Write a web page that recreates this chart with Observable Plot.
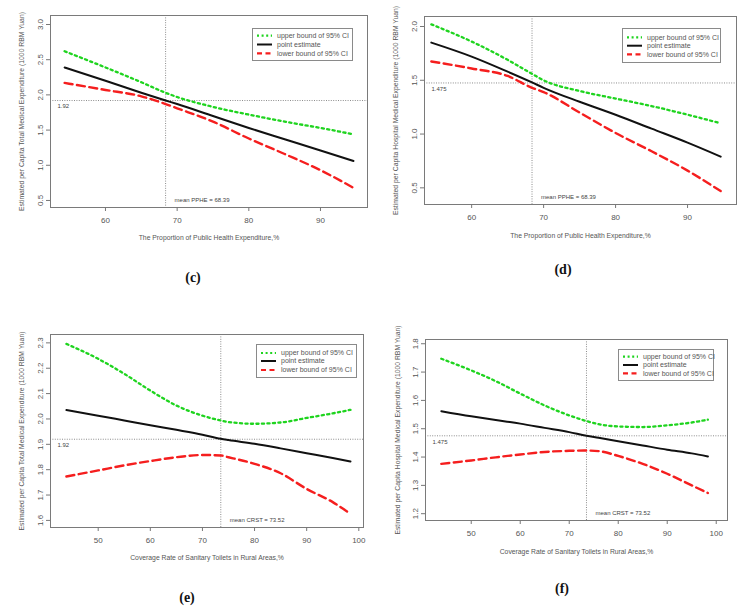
<!DOCTYPE html>
<html>
<head>
<meta charset="utf-8">
<script src="https://cdn.jsdelivr.net/npm/d3@7"></script>
<script src="https://cdn.jsdelivr.net/npm/@observablehq/plot@0.6"></script>
<style>
  html, body { margin: 0; padding: 0; background: #fff; }
  #root { position: relative; width: 748px; height: 612px; overflow: hidden; background: #fff; }
  .tag { position: absolute; font-family: "Liberation Serif", "DejaVu Serif", serif; font-weight: bold; font-size: 14px; color: #111; transform: translate(-50%, -50%); }
</style>
</head>
<body>
<div id="root"></div>
<script>
// ---------- data ----------
// Panel (c): Proportion of Public Health Expenditure vs per-capita total medical expenditure
const cX     = [54.3, 60, 65, 68.39, 70, 75, 80, 85, 90, 94.6];
const cPoint = [2.39, 2.20, 2.03, 1.92, 1.87, 1.70, 1.53, 1.37, 1.21, 1.06];
const cUpper = [2.62, 2.39, 2.18, 2.03, 1.97, 1.83, 1.72, 1.62, 1.53, 1.44];
const cLower = [2.17, 2.07, 1.98, 1.87, 1.81, 1.62, 1.38, 1.16, 0.93, 0.68];

// Panel (d): Proportion of Public Health Expenditure vs per-capita hospital medical expenditure
const dX     = [54.4, 60, 65, 68.39, 70, 75, 80, 85, 90, 94.6];
const dPoint = [1.85, 1.72, 1.58, 1.48, 1.43, 1.30, 1.18, 1.05, 0.92, 0.79];
const dUpper = [2.02, 1.86, 1.69, 1.56, 1.50, 1.40, 1.33, 1.26, 1.18, 1.10];
const dLower = [1.675, 1.61, 1.54, 1.43, 1.39, 1.20, 1.01, 0.84, 0.66, 0.47];

// Panel (e): Coverage rate of sanitary toilets vs per-capita total medical expenditure
const eX     = [43.9, 50, 55, 60, 65, 70, 73.52, 75, 80, 85, 90, 95, 98.4];
const ePoint = [2.035, 2.013, 1.994, 1.975, 1.957, 1.938, 1.922, 1.917, 1.902, 1.884, 1.865, 1.846, 1.832];
const eUpper = [2.296, 2.237, 2.178, 2.112, 2.053, 2.013, 1.994, 1.988, 1.981, 1.986, 2.004, 2.022, 2.036];
const eLower = [1.773, 1.797, 1.817, 1.834, 1.849, 1.858, 1.856, 1.849, 1.823, 1.786, 1.724, 1.672, 1.626];

// Panel (f): Coverage rate of sanitary toilets vs per-capita hospital medical expenditure
const fX     = [43.9, 50, 55, 60, 65, 70, 73.52, 76, 80, 85, 90, 95, 98.3];
const fPoint = [1.562, 1.544, 1.531, 1.518, 1.503, 1.488, 1.475, 1.468, 1.456, 1.441, 1.426, 1.413, 1.402];
const fUpper = [1.747, 1.706, 1.668, 1.624, 1.582, 1.547, 1.527, 1.516, 1.508, 1.506, 1.512, 1.522, 1.532];
const fLower = [1.376, 1.388, 1.399, 1.409, 1.418, 1.422, 1.423, 1.421, 1.404, 1.376, 1.341, 1.300, 1.273];

// tick labels
const ticksPPHE = [60, 70, 80, 90];
const ticksCRST = [50, 60, 70, 80, 90, 100];
const ticksC_y = [0.5, 1.0, 1.5, 2.0, 2.5, 3.0];
const ticksD_y = [0.5, 1.0, 1.5, 2.0];
const ticksE_y = [1.6, 1.7, 1.8, 1.9, 2.0, 2.1, 2.2, 2.3];
const ticksF_y = [1.2, 1.3, 1.4, 1.5, 1.6, 1.7, 1.8];

// reference values
const meanPPHE = 68.39, meanCRST = 73.52;
const refTotal = 1.92, refHosp = 1.475;

// texts
const titlePPHE = "The Proportion of Public Health Expenditure,%";
const titleCRST = "Coverage Rate of Sanitary Toilets in Rural Areas,%";
const yTitleTotal = "Estimated per Capita Total Medical Expenditure (1000 RBM Yuan)";
const yTitleHosp = "Estimated per Capita Hospital Medical Expenditure (1000 RBM Yuan)";
const legendLabels = ["upper bound of 95% CI", "point estimate", "lower bound of 95% CI"];
const panelTags = ["(c)", "(d)", "(e)", "(f)"];

// ---------- styling ----------
const FONT = "'Liberation Sans', Arial, sans-serif";
const GREEN = "#1fd41f", RED = "#f51e1e", BLACK = "#111";
const GREEN_DASH = "2.2,3.3", RED_DASH = "8,4.5";

function panel(cfg) {
  const rows = s => cfg.x.map((x, i) => ({x, y: s[i]}));
  const m = cfg.margin;
  return Plot.plot({
    width: cfg.w, height: cfg.h,
    marginLeft: m[0], marginRight: m[1], marginTop: m[2], marginBottom: m[3],
    x: {domain: cfg.xDomain},
    y: {domain: cfg.yDomain},
    style: {fontFamily: FONT, fontSize: "8px", color: "#555", background: "transparent", overflow: "visible"},
    marks: [
      Plot.ruleX([cfg.vRef], {stroke: "#8c8c8c", strokeWidth: 1, strokeDasharray: "1,1.4"}),
      Plot.ruleY([cfg.hRef], {stroke: "#8c8c8c", strokeWidth: 1, strokeDasharray: "1,1.4"}),
      Plot.line(rows(cfg.upper), {x: "x", y: "y", stroke: GREEN, strokeWidth: 2.3, strokeDasharray: GREEN_DASH, curve: "monotone-x"}),
      Plot.line(rows(cfg.point), {x: "x", y: "y", stroke: BLACK, strokeWidth: 2, curve: "monotone-x"}),
      Plot.line(rows(cfg.lower), {x: "x", y: "y", stroke: RED, strokeWidth: 2.4, strokeDasharray: RED_DASH, curve: "monotone-x"}),
      Plot.frame({stroke: "#7a7a7a", strokeWidth: 1}),
      Plot.axisX({ticks: cfg.xTicks, tickSize: 4, tickPadding: 6, label: null, stroke: "#777", tickFormat: d3.format("d")}),
      Plot.axisY({ticks: cfg.yTicks, tickSize: 4, tickPadding: 4, tickRotate: -90, label: null, stroke: "#777", tickFormat: d3.format(".1f")}),
      Plot.text([cfg.hLabel], {y: [cfg.hRef], frameAnchor: "left", dx: 7, dy: 6, textAnchor: "start", lineAnchor: "middle", fontSize: 6, fill: "#444"}),
      Plot.text([cfg.vLabel], {x: [cfg.vRef], frameAnchor: "bottom", dx: 9, dy: -7, textAnchor: "start", lineAnchor: "middle", fontSize: 6, fill: "#444"}),
      Plot.text([cfg.xTitle], {frameAnchor: "bottom", dy: cfg.xTitleDy, textAnchor: "middle", lineAnchor: "middle", fontSize: 6.8, fill: "#555"}),
      Plot.text([cfg.yTitle], {frameAnchor: "left", dx: cfg.yTitleDx, rotate: -90, textAnchor: "middle", lineAnchor: "middle", fontSize: 6.8, fill: "#555"})
    ]
  });
}

function legend(left, top, w, h, rowYs) {
  const styles = [
    {stroke: GREEN, dash: "2,2.6", width: 2.2},
    {stroke: BLACK, dash: "none", width: 2},
    {stroke: RED, dash: "5,3.5", width: 2.2}
  ];
  let s = `<svg width="${w}" height="${h}" style="position:absolute;left:${left}px;top:${top}px;overflow:visible">`;
  s += `<rect x="0.5" y="0.5" width="${w - 1}" height="${h - 1}" fill="white" stroke="#8a8a8a"/>`;
  legendLabels.forEach((lab, i) => {
    const st = styles[i];
    s += `<line x1="5" x2="20" y1="${rowYs[i]}" y2="${rowYs[i]}" stroke="${st.stroke}" stroke-width="${st.width}" stroke-dasharray="${st.dash}"/>`;
    s += `<text x="25" y="${rowYs[i]}" dy="0.35em" font-family="${FONT.replace(/'/g, "")}" font-size="7" fill="#555">${lab}</text>`;
  });
  s += `</svg>`;
  return s;
}

const root = document.getElementById("root");
function place(el, left, top) {
  el.style.position = "absolute";
  el.style.left = left + "px";
  el.style.top = top + "px";
  root.appendChild(el);
}

place(panel({
  x: cX, point: cPoint, upper: cUpper, lower: cLower,
  w: 374, h: 250, margin: [50, 7, 15, 43],
  xDomain: [52.33, 96.56], yDomain: [0.40, 3.128],
  xTicks: ticksPPHE, yTicks: ticksC_y,
  vRef: meanPPHE, hRef: refTotal, hLabel: "1.92", vLabel: "mean PPHE = 68.39",
  xTitle: titlePPHE, yTitle: yTitleTotal, xTitleDy: 30, yTitleDx: -29
}), 0, 0);

place(panel({
  x: dX, point: dPoint, upper: dUpper, lower: dLower,
  w: 374, h: 250, margin: [50, 12, 16, 46],
  xDomain: [53.45, 96.8], yDomain: [0.345, 2.093],
  xTicks: ticksPPHE, yTicks: ticksD_y,
  vRef: meanPPHE, hRef: refHosp, hLabel: "1.475", vLabel: "mean PPHE = 68.39",
  xTitle: titlePPHE, yTitle: yTitleHosp, xTitleDy: 31, yTitleDx: -29
}), 374, 0);

place(panel({
  x: eX, point: ePoint, upper: eUpper, lower: eLower,
  w: 374, h: 280, margin: [50, 11, 44, 43],
  xDomain: [40.85, 100.9], yDomain: [1.572, 2.333],
  xTicks: ticksCRST, yTicks: ticksE_y,
  vRef: meanCRST, hRef: refTotal, hLabel: "1.92", vLabel: "mean CRST = 73.52",
  xTitle: titleCRST, yTitle: yTitleTotal, xTitleDy: 30, yTitleDx: -29
}), 0, 290);

place(panel({
  x: fX, point: fPoint, upper: fUpper, lower: fLower,
  w: 374, h: 280, margin: [51, 21, 49, 50],
  xDomain: [40.67, 102.3], yDomain: [1.176, 1.815],
  xTicks: ticksCRST, yTicks: ticksF_y,
  vRef: meanCRST, hRef: refHosp, hLabel: "1.475", vLabel: "mean CRST = 73.52",
  xTitle: titleCRST, yTitle: yTitleHosp, xTitleDy: 31, yTitleDx: -28
}), 374, 290);

root.insertAdjacentHTML("beforeend", legend(252, 28, 101, 33, [7.7, 16.5, 25.3]));
root.insertAdjacentHTML("beforeend", legend(622, 28, 99, 35, [9.4, 17.7, 26.4]));
root.insertAdjacentHTML("beforeend", legend(256, 344, 101, 34, [9, 17, 26]));
root.insertAdjacentHTML("beforeend", legend(618, 349, 96, 32, [7.7, 16, 24.3]));

const tagPos = [[193, 278], [563, 270], [187, 598], [562, 589]];
panelTags.forEach((t, i) => {
  const d = document.createElement("div");
  d.className = "tag";
  d.textContent = t;
  d.style.left = tagPos[i][0] + "px";
  d.style.top = tagPos[i][1] + "px";
  root.appendChild(d);
});
</script>
</body>
</html>
